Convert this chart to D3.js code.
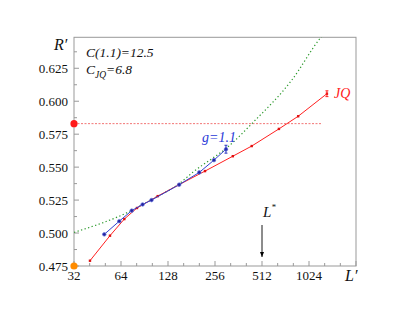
<!DOCTYPE html>
<html><head><meta charset="utf-8">
<script src="https://cdn.jsdelivr.net/npm/d3@7"></script>
<style>
body{margin:0;background:#fff;}
text{font-family:"Liberation Serif","Times New Roman",serif;}
</style></head>
<body><svg id="c" width="415" height="319"></svg>
<script>
// ---- data ----
const xTickLabels = [32, 64, 128, 256, 512, 1024];
const yTickLabels = [0.475, 0.500, 0.525, 0.550, 0.575, 0.600, 0.625];
const jqL = [40.5, 54.4, 67.2, 81, 110, 149, 221, 333, 440, 657, 873, 1334];
const jqR = [0.479, 0.498, 0.5106, 0.519, 0.528, 0.5364, 0.547, 0.5583, 0.566, 0.579, 0.5886, 0.6057];
const jqErr = [0,0,0,0,0,0,0,0,0,0,0,0.0022];
const gL = [50, 62.4, 75, 88, 100.4, 151, 203, 252, 301];
const gR = [0.499, 0.509, 0.517, 0.5217, 0.525, 0.5367, 0.546, 0.5553, 0.5636];
const gErr = [0,0,0,0,0,0,0,0,0.003];
const fitL = [32, 75, 100, 150, 185, 319, 446, 793, 1222, 1320];
const fitR = [0.5005, 0.5172, 0.5253, 0.5372, 0.5462, 0.5667, 0.5836, 0.6159, 0.6485, 0.653];
const refR = 0.583;      // red dashed level
const refLend = 1250;
const orangeR = 0.475;
const Lstar = 512;

const svg = d3.select("#c");
const x = d3.scaleLog().base(2).domain([32, 2048]).range([74, 356]);
const y = d3.scaleLinear().domain([0.475, 0.6485]).range([266, 37.3]);
const X0 = 74, X1 = 356, Y0 = 266, Y1 = 37.3;

svg.append("defs").append("clipPath").attr("id","clip")
  .append("rect").attr("x",X0).attr("y",Y1).attr("width",X1-X0).attr("height",Y0-Y1);
svg.select("defs").append("marker").attr("id","arr").attr("viewBox","0 0 10 10")
  .attr("refX",10).attr("refY",5).attr("markerWidth",6).attr("markerHeight",6).attr("orient","auto")
  .append("path").attr("d","M0,1L10,5L0,9Z").attr("fill","#000");

// frame
svg.append("rect").attr("x",X0).attr("y",Y1).attr("width",X1-X0).attr("height",Y0-Y1)
  .attr("fill","none").attr("stroke","#999").attr("stroke-width",1);

// ticks
const yMinor = d3.range(0.4875, 0.64, 0.025);
const xMinor = [];
for (let k = 5; k < 11; k++) { xMinor.push(Math.pow(2, k + 1/3), Math.pow(2, k + 2/3)); }
const tk = svg.append("g").attr("stroke","#999").attr("stroke-width",1);
yTickLabels.forEach(v => tk.append("line").attr("x1",X0).attr("x2",X0+5).attr("y1",y(v)).attr("y2",y(v)));
yMinor.forEach(v => tk.append("line").attr("x1",X0).attr("x2",X0+3).attr("y1",y(v)).attr("y2",y(v)));
xTickLabels.concat([2048]).forEach(v => tk.append("line").attr("x1",x(v)).attr("x2",x(v)).attr("y1",Y0).attr("y2",Y0-5));
xMinor.forEach(v => tk.append("line").attr("x1",x(v)).attr("x2",x(v)).attr("y1",Y0).attr("y2",Y0-3));

// tick labels
svg.append("g").selectAll("text").data(yTickLabels).join("text")
  .attr("x",68).attr("y",d=>y(d)).attr("dy","0.35em").attr("text-anchor","end")
  .attr("font-size",13).attr("fill","#111").text(d=>d3.format(".3f")(d));
svg.append("g").selectAll("text").data(xTickLabels).join("text")
  .attr("x",d=>x(d)).attr("y",280).attr("text-anchor","middle")
  .attr("font-size",13).attr("fill","#111").text(d=>d);

// axis titles
svg.append("text").attr("x",54).attr("y",50).attr("font-size",16).attr("font-style","italic").attr("fill","#111").text("R′");
svg.append("text").attr("x",345).attr("y",281).attr("font-size",16).attr("font-style","italic").attr("fill","#111").text("L′");

// annotations
svg.append("text").attr("x",86).attr("y",57).attr("font-size",13.5).attr("font-style","italic").attr("fill","#111").text("C(1.1)=12.5");
const cj = svg.append("text").attr("x",86).attr("y",74).attr("font-size",13.5).attr("font-style","italic").attr("fill","#111");
cj.append("tspan").text("C");
cj.append("tspan").attr("font-size",9.5).attr("dy",4).text("JQ");
cj.append("tspan").attr("dy",-4).text("=6.8");

const plot = svg.append("g").attr("clip-path","url(#clip)");

// reference dashed line
plot.append("line").attr("x1",x(32)).attr("x2",x(refLend)).attr("y1",y(refR)).attr("y2",y(refR))
  .attr("stroke","#e33").attr("stroke-width",0.8).attr("stroke-dasharray","2,1.5").attr("opacity",0.85);

// green fit
const fit = fitL.map((d,i)=>[d,fitR[i]]);
plot.append("path").datum(fit)
  .attr("d", d3.line().x(d=>x(d[0])).y(d=>y(d[1])).curve(d3.curveMonotoneX))
  .attr("fill","none").attr("stroke","#2e9a2e").attr("stroke-width",1.2).attr("stroke-dasharray","1.3,2.4");

// JQ red
const jq = jqL.map((d,i)=>({L:d,R:jqR[i],e:jqErr[i]}));
svg.append("path").datum(jq).attr("d", d3.line().x(d=>x(d.L)).y(d=>y(d.R)))
  .attr("fill","none").attr("stroke","#ff2020").attr("stroke-width",1);
svg.append("g").selectAll("rect").data(jq).join("rect")
  .attr("x",d=>x(d.L)-1.2).attr("y",d=>y(d.R)-1.2).attr("width",2.4).attr("height",2.4).attr("fill","#e01010");
jq.filter(d=>d.e>0).forEach(d=>{
  const g = svg.append("g").attr("stroke","#ff2020").attr("stroke-width",1);
  g.append("line").attr("x1",x(d.L)).attr("x2",x(d.L)).attr("y1",y(d.R-d.e)).attr("y2",y(d.R+d.e));
  g.append("line").attr("x1",x(d.L)-1.5).attr("x2",x(d.L)+1.5).attr("y1",y(d.R-d.e)).attr("y2",y(d.R-d.e));
  g.append("line").attr("x1",x(d.L)-1.5).attr("x2",x(d.L)+1.5).attr("y1",y(d.R+d.e)).attr("y2",y(d.R+d.e));
});

// g=1.1 blue
const gg = gL.map((d,i)=>({L:d,R:gR[i],e:gErr[i]}));
svg.append("path").datum(gg).attr("d", d3.line().x(d=>x(d.L)).y(d=>y(d.R)))
  .attr("fill","none").attr("stroke","#3040d0").attr("stroke-width",1);
svg.append("g").selectAll("circle").data(gg).join("circle")
  .attr("cx",d=>x(d.L)).attr("cy",d=>y(d.R)).attr("r",1.8)
  .attr("fill","#2424a0").attr("stroke","#6a78e0").attr("stroke-width",0.7);
gg.filter(d=>d.e>0).forEach(d=>{
  const g = svg.append("g").attr("stroke","#2a36c0").attr("stroke-width",1);
  g.append("line").attr("x1",x(d.L)).attr("x2",x(d.L)).attr("y1",y(d.R-d.e)).attr("y2",y(d.R+d.e));
  g.append("line").attr("x1",x(d.L)-1.5).attr("x2",x(d.L)+1.5).attr("y1",y(d.R-d.e)).attr("y2",y(d.R-d.e));
  g.append("line").attr("x1",x(d.L)-1.5).attr("x2",x(d.L)+1.5).attr("y1",y(d.R+d.e)).attr("y2",y(d.R+d.e));
});

// series labels
svg.append("text").attr("x",334).attr("y",98).attr("font-size",14).attr("font-style","italic").attr("fill","#ff2020").text("JQ");
svg.append("text").attr("x",202).attr("y",141.5).attr("font-size",14).attr("font-style","italic").attr("fill","#2a3ad8").text("g=1.1");

// axis dots
svg.append("circle").attr("cx",x(32)).attr("cy",y(refR)).attr("r",3.6).attr("fill","#ff1a1a");
svg.append("circle").attr("cx",x(32)).attr("cy",y(orangeR)).attr("r",3.6).attr("fill","#ff8c00");

// L* arrow
svg.append("line").attr("x1",x(Lstar)).attr("x2",x(Lstar)).attr("y1",225).attr("y2",257)
  .attr("stroke","#000").attr("stroke-width",0.9).attr("marker-end","url(#arr)");
const ls = svg.append("text").attr("x",263).attr("y",217).attr("font-size",15).attr("font-style","italic").attr("fill","#111");
ls.append("tspan").text("L");
ls.append("tspan").attr("font-size",9).attr("dy",-7).text("*");
</script></body></html>
